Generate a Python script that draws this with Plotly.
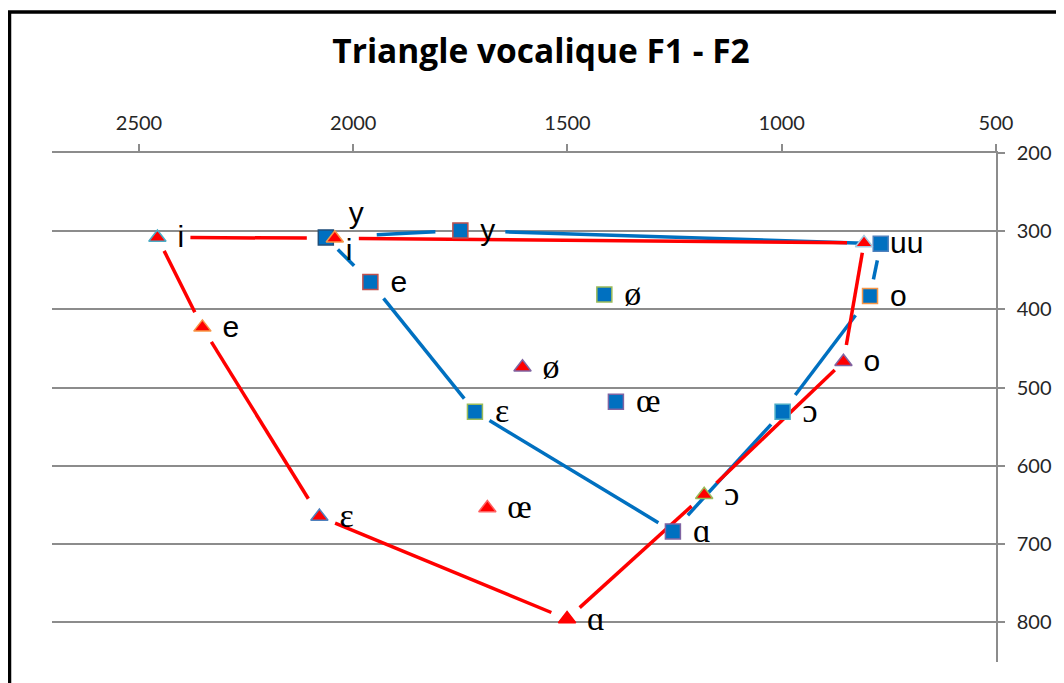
"""Triangle vocalique F1 - F2 : deux locuteurs, F2 en abscisse, F1 en ordonnée"""
import math
import plotly.graph_objects as go

VOYELLES = ['i', 'e', 'ε', 'ɑ', 'ɔ', 'o', 'u', 'y', 'ø', 'œ']

# série rouge (triangles)
F2_ROUGE = [2457, 2352, 2079, 1501, 1181, 856, 808, 2043, 1605, 1687]
F1_ROUGE = [308, 423, 665, 796, 637, 467, 315, 309, 474, 654]

# série bleue (carrés)
F2_BLEU = [2064, 1960, 1716, 1254, 998, 794, 769, 1750, 1414, 1387]
F1_BLEU = [308, 365, 531, 684, 531, 383, 316, 299, 381, 518]

CONTOUR_ROUGE = ['i', 'y', 'u', 'o', 'ɔ', 'ɑ', 'ε', 'e', 'i']
CONTOUR_BLEU = ['i', 'e', 'ε', 'ɑ', 'ɔ', 'o', 'u', 'y', 'i']

X_TICKS = [2500, 2000, 1500, 1000, 500]
Y_TICKS = [200, 300, 400, 500, 600, 700, 800]
X_RANGE = [2703, 500]
Y_RANGE = [851, 200]

ROUGE = '#ff0000'
BLEU = '#0070c0'
GRIS = '#8c8c8c'
W, H = 1064, 683
PAGE = 8  # marge du <body> de la page html
MARGIN = dict(l=52 - PAGE, r=68 + PAGE, t=153 - PAGE, b=21 + PAGE, pad=0)
PLOT_W = W - MARGIN['l'] - MARGIN['r']
PLOT_H = H - MARGIN['t'] - MARGIN['b']
PX_X = PLOT_W / abs(X_RANGE[0] - X_RANGE[1])
PX_Y = PLOT_H / abs(Y_RANGE[0] - Y_RANGE[1])

SERIF = {'ε', 'ɑ', 'ɔ', 'ø', 'œ'}
# décalage des étiquettes en pixels (droite, bas)
DECALAGE = {('rouge', 'y'): (14, -23), ('bleu', 'i'): (20, 15),
            ('rouge', 'u'): (26, 3), ('bleu', 'u'): (26, 2)}

# les segments s'arrêtent avant les points (px) ; (série, point, voisin)
ECART = 17
ECARTS = {('rouge', 'i', 'y'): 33, ('rouge', 'y', 'i'): 28, ('rouge', 'y', 'u'): 24,
          ('rouge', 'u', 'o'): 10, ('rouge', 'o', 'ɔ'): 12, ('rouge', 'ε', 'e'): 21,
          ('rouge', 'i', 'e'): 15,
          ('bleu', 'e', 'i'): 23, ('bleu', 'e', 'ε'): 21, ('bleu', 'ɑ', 'ɔ'): 22,
          ('bleu', 'ɔ', 'o'): 21, ('bleu', 'o', 'ɔ'): 24, ('bleu', 'y', 'u'): 45,
          ('bleu', 'y', 'i'): 25, ('bleu', 'i', 'y'): 51}

# contours des marqueurs (couleurs variées comme dans Excel)
BORD_ROUGE = ['#4bacc6', '#f79646', '#4f81bd', '#ff0000', '#9bbb59',
              '#8064a2', '#a5c9e0', '#f79646', '#8064a2', '#ff6060']
BORD_BLEU = ['#1f4e79', '#c0504d', '#9bbb59', '#8064a2', '#4bacc6',
             '#f79646', '#4f81bd', '#c0504d', '#9bbb59', '#8064a2']


def contour(serie, f2, f1, ordre):
    """segments du contour, raccourcis à chaque extrémité"""
    xs, ys = [], []
    for a, b in zip(ordre[:-1], ordre[1:]):
        x0, y0 = f2[VOYELLES.index(a)], f1[VOYELLES.index(a)]
        x1, y1 = f2[VOYELLES.index(b)], f1[VOYELLES.index(b)]
        long_px = math.hypot((x1 - x0) * PX_X, (y1 - y0) * PX_Y)
        t0 = ECARTS.get((serie, a, b), ECART) / long_px
        t1 = 1 - ECARTS.get((serie, b, a), ECART) / long_px
        xs += [x0 + t0 * (x1 - x0), x0 + t1 * (x1 - x0), None]
        ys += [y0 + t0 * (y1 - y0), y0 + t1 * (y1 - y0), None]
    return xs, ys


def etiquettes(serie, f2, f1):
    xs, ys, fam, size = [], [], [], []
    for v, x, y in zip(VOYELLES, f2, f1):
        dx, dy = DECALAGE.get((serie, v), (20, 2))
        xs.append(x - dx / PX_X)
        ys.append(y + dy / PX_Y)
        if v in SERIF:
            fam.append('Liberation Serif, DejaVu Serif')
            size.append(34)
        else:
            fam.append('Liberation Sans, Arial')
            size.append(30)
    return xs, ys, fam, size


fig = go.Figure()

for serie, f2, f1, ordre, col in [('bleu', F2_BLEU, F1_BLEU, CONTOUR_BLEU, BLEU),
                                  ('rouge', F2_ROUGE, F1_ROUGE, CONTOUR_ROUGE, ROUGE)]:
    cx, cy = contour(serie, f2, f1, ordre)
    fig.add_trace(go.Scatter(x=cx, y=cy, mode='lines',
                             line=dict(color=col, width=3.5), hoverinfo='skip'))

fig.add_trace(go.Scatter(x=F2_BLEU, y=F1_BLEU, mode='markers', name='bleu',
                         marker=dict(symbol='square', size=15, color=BLEU,
                                     line=dict(color=BORD_BLEU, width=1.5))))
fig.add_trace(go.Scatter(x=F2_ROUGE, y=F1_ROUGE, mode='markers', name='rouge',
                         marker=dict(symbol='triangle-up', size=15, color=ROUGE,
                                     line=dict(color=BORD_ROUGE, width=1.5))))

for serie, f2, f1 in [('rouge', F2_ROUGE, F1_ROUGE), ('bleu', F2_BLEU, F1_BLEU)]:
    lx, ly, fam, size = etiquettes(serie, f2, f1)
    fig.add_trace(go.Scatter(x=lx, y=ly, mode='text', text=VOYELLES,
                             textposition='middle right',
                             textfont=dict(family=fam, size=size, color='black'),
                             hoverinfo='skip'))

tick_font = dict(family='Lato', size=20, color='#262626')
fig.update_layout(
    width=W, height=H, margin=MARGIN, showlegend=False,
    plot_bgcolor='white', paper_bgcolor='white',
    title=dict(text='Triangle vocalique F1 - F2', xref='container',
               x=(541 - PAGE) / W, xanchor='center', yref='container',
               y=1 - (51 - PAGE) / H, yanchor='middle',
               font=dict(family='Open Sans', size=33.5, color='black', weight='bold')),
    xaxis=dict(range=X_RANGE, side='top', tickvals=X_TICKS,
               showgrid=False, zeroline=False,
               showline=True, linecolor=GRIS, linewidth=1.5,
               ticks='outside', ticklen=7, tickwidth=1.5, tickcolor=GRIS,
               ticklabelstandoff=6, tickfont=tick_font),
    yaxis=dict(range=Y_RANGE, side='right', tickvals=Y_TICKS,
               showgrid=True, gridcolor=GRIS, gridwidth=1.5, zeroline=False,
               showline=True, linecolor=GRIS, linewidth=1.5,
               ticks='outside', ticklen=7, tickwidth=1.5, tickcolor=GRIS,
               ticklabelstandoff=8, tickfont=tick_font),
    shapes=[dict(type='rect', xref='paper', yref='paper',
                 x0=(9.5 - 52) / PLOT_W, x1=1.1, y0=-0.1,
                 y1=1 + (153 - 12) / PLOT_H,
                 line=dict(color='black', width=3.5), layer='above')],
)

fig.write_html("out.html")
